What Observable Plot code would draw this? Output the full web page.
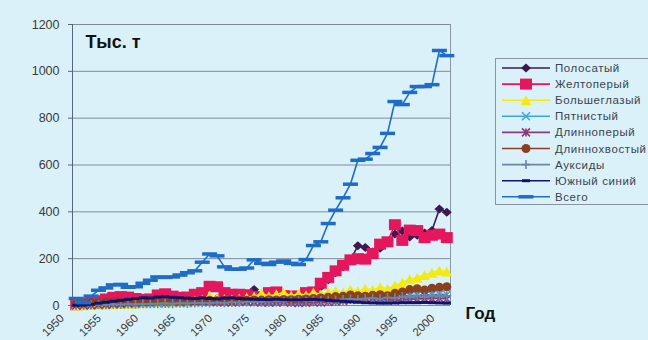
<!DOCTYPE html>
<html>
<head>
<meta charset="utf-8">
<script src="https://cdn.jsdelivr.net/npm/d3@7"></script>
<script src="https://cdn.jsdelivr.net/npm/@observablehq/plot@0.6"></script>
<style>
  html, body { margin: 0; padding: 0; background: #dbf1f9; }
  #chart { position: relative; width: 648px; height: 340px; overflow: hidden;
           background: #dbf1f9; font-family: Arial, "Liberation Sans", sans-serif; }
  #legend { position: absolute; left: 495px; top: 58px; }
</style>
</head>
<body>
<div id="chart"></div>
<script>
// Годы (категории оси X)
const years = [
  1950, 1951, 1952, 1953, 1954, 1955, 1956, 1957, 1958, 1959,
  1960, 1961, 1962, 1963, 1964, 1965, 1966, 1967, 1968, 1969,
  1970, 1971, 1972, 1973, 1974, 1975, 1976, 1977, 1978, 1979,
  1980, 1981, 1982, 1983, 1984, 1985, 1986, 1987, 1988, 1989,
  1990, 1991, 1992, 1993, 1994, 1995, 1996, 1997, 1998, 1999, 2000
];

// Вылов, тыс. т
const skipjack = [
  5, 4, 8, 10, 12, 14, 13, 12, 11, 13,
  15, 17, 16, 18, 20, 22, 24, 28, 32, 30,
  28, 30, 34, 40, 68, 45, 40, 42, 45, 40,
  38, 45, 58, 80, 110, 140, 165, 195, 255, 248,
  228, 245, 268, 305, 318, 292, 300, 310, 320, 412, 398
];
const yellowfin = [
  3, 8, 15, 20, 28, 35, 38, 36, 30, 26,
  28, 45, 50, 40, 35, 36, 48, 55, 82, 80,
  55, 48, 48, 46, 38, 35, 55, 58, 42, 40,
  40, 55, 58, 95, 120, 148, 172, 195, 200, 198,
  222, 262, 272, 345, 278, 322, 320, 290, 300, 305, 290
];
const bigeye = [
  0, 1, 2, 3, 4, 5, 6, 8, 9, 10,
  12, 14, 15, 16, 16, 18, 20, 25, 42, 32,
  28, 26, 30, 34, 38, 52, 40, 48, 55, 42,
  50, 44, 55, 48, 58, 62, 56, 68, 62, 72,
  66, 78, 72, 85, 98, 112, 118, 130, 140, 150, 145
];
const kawakawa = [
  2, 3, 3, 5, 4, 6, 5, 7, 6, 8,
  8, 9, 8, 10, 11, 10, 12, 13, 14, 13,
  15, 14, 16, 17, 16, 18, 19, 18, 20, 21,
  22, 21, 23, 25, 24, 27, 29, 28, 31, 33,
  35, 34, 37, 40, 38, 42, 45, 43, 46, 48, 47
];
const albacore = [
  0, 0, 1, 2, 4, 6, 8, 10, 12, 14,
  16, 18, 20, 17, 15, 16, 18, 19, 17, 15,
  14, 13, 15, 16, 14, 13, 12, 13, 14, 12,
  11, 12, 14, 13, 15, 17, 20, 24, 28, 32,
  30, 27, 25, 22, 24, 26, 28, 30, 29, 31, 28
];
const longtail = [
  8, 10, 12, 12, 14, 15, 14, 16, 15, 17,
  16, 18, 17, 19, 18, 20, 19, 21, 22, 20,
  22, 21, 23, 22, 24, 23, 25, 24, 26, 25,
  27, 28, 30, 32, 35, 38, 40, 45, 42, 40,
  44, 46, 42, 52, 58, 68, 72, 66, 74, 78, 80
];
const auxis = [
  2, 2, 3, 4, 3, 5, 4, 6, 5, 7,
  7, 8, 9, 8, 10, 9, 11, 12, 11, 13,
  12, 14, 13, 15, 16, 15, 17, 18, 17, 19,
  20, 19, 22, 21, 24, 23, 26, 28, 27, 30,
  32, 29, 34, 33, 38, 36, 40, 37, 42, 39, 41
];
const southernBluefin = [
  1, 2, 5, 10, 14, 18, 22, 26, 30, 33,
  32, 36, 38, 35, 33, 31, 30, 32, 30, 28,
  31, 32, 30, 28, 27, 26, 25, 27, 25, 24,
  24, 25, 26, 24, 22, 20, 18, 16, 14, 12,
  11, 10, 10, 11, 12, 12, 12, 13, 12, 11, 10
];
const total = [
  30, 12, 40, 65, 75, 88, 90, 78, 80, 95,
  108, 122, 120, 122, 130, 140, 148, 185, 220, 212,
  165, 155, 155, 160, 195, 180, 175, 185, 190, 180,
  175, 196, 256, 272, 350, 407, 460, 518, 620, 625,
  649, 675, 735, 871, 858, 910, 935, 935, 943, 1089, 1067
];

// Подписи
const seriesNames = ["Полосатый", "Желтоперый", "Большеглазый", "Пятнистый",
  "Длинноперый", "Длиннохвостый", "Ауксиды", "Южный синий", "Всего"];
const yTicks = [0, 200, 400, 600, 800, 1000, 1200];
const xTicks = [1950, 1955, 1960, 1965, 1970, 1975, 1980, 1985, 1990, 1995, 2000];

// Маркеры в стиле Excel
const rectSym = (w, h) => ({draw(c) { c.moveTo(-w/2, -h/2); c.lineTo(w/2, -h/2); c.lineTo(w/2, h/2); c.lineTo(-w/2, h/2); c.closePath(); }});
const diamondSym = (w, h) => ({draw(c) { c.moveTo(0, -h/2); c.lineTo(w/2, 0); c.lineTo(0, h/2); c.lineTo(-w/2, 0); c.closePath(); }});
const triSym = (w, h) => ({draw(c) { c.moveTo(0, -h/2); c.lineTo(w/2, h/2); c.lineTo(-w/2, h/2); c.closePath(); }});
const timesSym = (w, h) => ({draw(c) { c.moveTo(-w/2, -h/2); c.lineTo(w/2, h/2); c.moveTo(w/2, -h/2); c.lineTo(-w/2, h/2); }});
const plusSym = (w, h) => ({draw(c) { c.moveTo(-w/2, 0); c.lineTo(w/2, 0); c.moveTo(0, -h/2); c.lineTo(0, h/2); }});
const starSym = (w, h) => ({draw(c) { c.moveTo(-w/2, -h/2); c.lineTo(w/2, h/2); c.moveTo(w/2, -h/2); c.lineTo(-w/2, h/2); c.moveTo(0, -h/2); c.lineTo(0, h/2); }});
const circleSym = (r) => ({draw(c) { c.moveTo(r, 0); c.arc(0, 0, r, 0, 2 * Math.PI); c.closePath(); }});

const series = [
  {name: seriesNames[0], values: skipjack,        color: "#3e1850", sym: diamondSym(10, 9), filled: true},
  {name: seriesNames[1], values: yellowfin,       color: "#e5175c", sym: rectSym(12, 11),   filled: true},
  {name: seriesNames[2], values: bigeye,          color: "#f4ea12", sym: triSym(11, 10),    filled: true},
  {name: seriesNames[3], values: kawakawa,        color: "#39a9dc", sym: timesSym(8, 8),    filled: false},
  {name: seriesNames[4], values: albacore,        color: "#8a3a7a", sym: starSym(8, 8),     filled: false},
  {name: seriesNames[5], values: longtail,        color: "#8a4020", sym: circleSym(4.5),    filled: true},
  {name: seriesNames[6], values: auxis,           color: "#6e86a6", sym: plusSym(8, 9),     filled: false},
  {name: seriesNames[7], values: southernBluefin, color: "#12126e", sym: rectSym(8, 3),     filled: true},
  {name: seriesNames[8], values: total,           color: "#1f6cc6", sym: rectSym(15, 3.5),  filled: true}
];

const seriesMarks = series.flatMap(s => {
  const rows = years.map((year, i) => ({year, value: s.values[i]}));
  return [
    Plot.line(rows, {x: "year", y: "value", stroke: s.color, strokeWidth: 1.6}),
    Plot.dot(rows, {x: "year", y: "value", r: 4, symbol: s.sym,
      fill: s.filled ? s.color : "none", stroke: s.filled ? "none" : s.color,
      strokeWidth: s.filled ? 0 : 1.6})
  ];
});

const chart = Plot.plot({
  width: 648,
  height: 340,
  marginLeft: 72,
  marginRight: 198,
  marginTop: 24,
  marginBottom: 35,
  style: {background: "transparent", fontFamily: "Arial, 'Liberation Sans', sans-serif", overflow: "visible"},
  x: {domain: [1949.5, 2000.5]},
  y: {domain: [0, 1200]},
  marks: [
    Plot.gridY(yTicks, {stroke: "#7f8b9c", strokeOpacity: 1, strokeWidth: 1}),
    Plot.ruleX([2000.5], {y1: 0, y2: 1200, stroke: "#8d97a6", strokeWidth: 1}),
    Plot.axisY(yTicks, {tickSize: 4, tickPadding: 9, stroke: "#56657a", fill: "#3a3a3a",
      fontSize: 12.5, label: null, tickFormat: d => String(d)}),
    Plot.ruleX([1949.5], {y1: 0, y2: 1200, stroke: "#56657a", strokeWidth: 1}),
    Plot.axisX(xTicks, {tickSize: 0, tickRotate: -45, textAnchor: "end", fill: "#3a3a3a",
      fontSize: 11.5, dx: -14, dy: -1, label: null, tickFormat: d => String(d)}),
    ...seriesMarks,
    Plot.text(["Тыс. т"], {frameAnchor: "top-left", dx: 13, dy: 18, textAnchor: "start",
      fontWeight: "bold", fontSize: 18, fill: "#111", lineAnchor: "middle",
      letterSpacing: 1}),
    Plot.text(["Год"], {frameAnchor: "bottom-right", dx: 15, dy: 8, textAnchor: "start",
      fontWeight: "bold", fontSize: 17, fill: "#111", lineAnchor: "middle",
      letterSpacing: 1})
  ]
});

const root = document.getElementById("chart");
root.appendChild(chart);

// Легенда
const rowH = 16.1;
const legend = d3.create("svg")
  .attr("id", "legend")
  .attr("width", 170)
  .attr("height", 150)
  .style("overflow", "visible");
legend.append("rect")
  .attr("x", 0.5).attr("y", 0.5).attr("width", 168).attr("height", 146)
  .attr("fill", "none").attr("stroke", "#8a94a2").attr("stroke-width", 1);
series.forEach((s, i) => {
  const g = legend.append("g").attr("transform", `translate(0, ${10 + i * rowH})`);
  g.append("line").attr("x1", 7).attr("x2", 55).attr("y1", 0).attr("y2", 0)
    .attr("stroke", s.color).attr("stroke-width", 1.6);
  const p = d3.path();
  s.sym.draw(p);
  g.append("path").attr("d", p.toString()).attr("transform", "translate(31, 0)")
    .attr("fill", s.filled ? s.color : "none")
    .attr("stroke", s.filled ? "none" : s.color)
    .attr("stroke-width", 1.6);
  g.append("text").attr("x", 60).attr("y", 0).attr("dy", "0.35em")
    .attr("font-size", 11.5).attr("letter-spacing", 0.6).attr("fill", "#3a4350")
    .attr("font-family", "Arial, 'Liberation Sans', sans-serif")
    .text(s.name);
});
root.appendChild(legend.node());
</script>
</body>
</html>
